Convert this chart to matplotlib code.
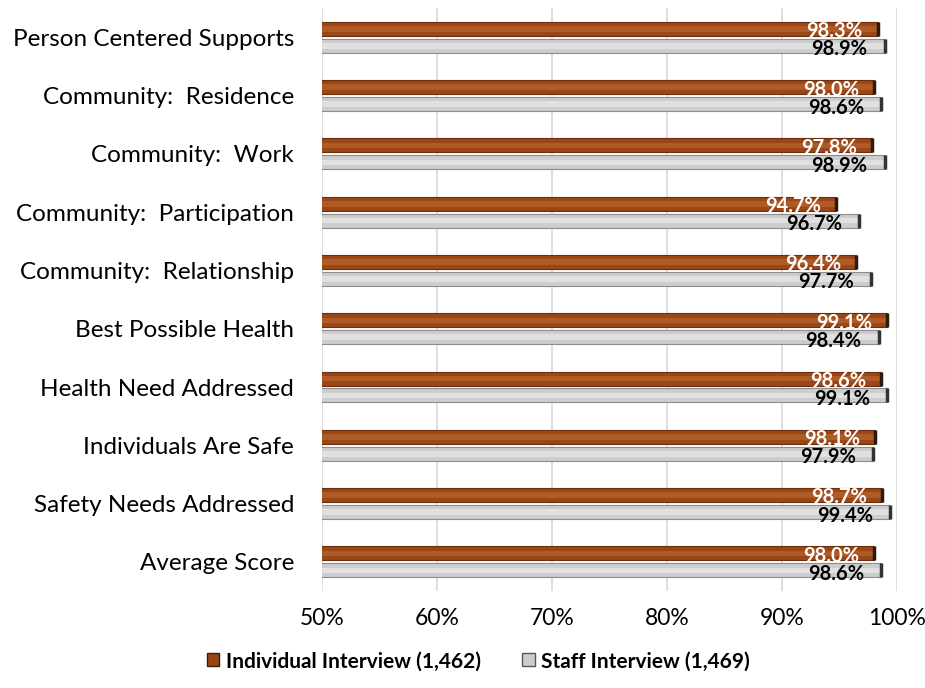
import matplotlib
matplotlib.use('Agg')
import matplotlib.pyplot as plt
import numpy as np

plt.rcParams['font.family'] = ['Lato', 'DejaVu Sans']

# 分类与两组得分
categories = ['Person Centered Supports', 'Community:  Residence', 'Community:  Work',
              'Community:  Participation', 'Community:  Relationship', 'Best Possible Health',
              'Health Need Addressed', 'Individuals Are Safe', 'Safety Needs Addressed',
              'Average Score']
individual = [98.3, 98.0, 97.8, 94.7, 96.4, 99.1, 98.6, 98.1, 98.7, 98.0]
staff = [98.9, 98.6, 98.9, 96.7, 97.7, 98.4, 99.1, 97.9, 99.4, 98.6]
series_names = ['Individual Interview (1,462)', 'Staff Interview (1,469)']

fig = plt.figure(figsize=(9.25, 6.88), dpi=100)
ax = fig.add_axes([0.348, 0.141, 0.622, 0.847])

y = np.arange(len(categories))
h = 0.24
gap = 0.025
y_ind = y - h / 2 - gap
y_stf = y + h / 2 + gap

c_ind, e_ind = '#9A4718', '#6E2E0C'
c_stf, e_stf = '#CDCDCD', '#8C8C8C'

ax.barh(y_ind, individual, height=h, color=c_ind, edgecolor=e_ind, linewidth=0.8, zorder=3)
ax.barh(y_stf, staff, height=h, color=c_stf, edgecolor=e_stf, linewidth=0.8, zorder=3)
# 中间一条亮带，模拟立体感
ax.barh(y_ind, individual, height=h * 0.4, color='#B05A26', linewidth=0, zorder=4)
ax.barh(y_stf, staff, height=h * 0.4, color='#E0E0E0', linewidth=0, zorder=4)
# 柱子末端的深色端盖
ax.vlines(individual, y_ind - h / 2, y_ind + h / 2, color='#2A1A10', linewidth=2.5, zorder=5)
ax.vlines(staff, y_stf - h / 2, y_stf + h / 2, color='#333333', linewidth=2.5, zorder=5)

for i in range(len(categories)):
    ax.text(individual[i] - 1.3, y_ind[i] + 0.04, '%.1f%%' % individual[i], ha='right', va='center',
            color='white', fontsize=14.5, fontweight='bold', zorder=6)
    ax.text(staff[i] - 1.5, y_stf[i] + 0.06, '%.1f%%' % staff[i], ha='right', va='center',
            color='black', fontsize=14.5, fontweight='bold', zorder=6)

ax.set_xlim(50, 100)
ax.set_ylim(len(categories) - 0.5, -0.5)
ax.set_xticks(range(50, 101, 10))
ax.set_xticklabels(['%d%%' % v for v in range(50, 101, 10)], fontsize=16.5)
ax.set_yticks(y)
ax.set_yticklabels(categories, fontsize=17.5)
ax.tick_params(length=0)
ax.tick_params(axis='x', pad=12)
ax.tick_params(axis='y', pad=20)
ax.grid(axis='x', color='#D9D9D9', linewidth=1.2, zorder=0)
for s in ax.spines.values():
    s.set_visible(False)

handles = [plt.Rectangle((0, 0), 1, 1, facecolor=c_ind, edgecolor='#3A1A08'),
           plt.Rectangle((0, 0), 1, 1, facecolor=c_stf, edgecolor='#555555')]
leg = fig.legend(handles, series_names, loc='center', bbox_to_anchor=(0.517, 0.039), ncol=2,
                 frameon=False, handlelength=0.6, handleheight=0.6, handletextpad=0.3,
                 columnspacing=2.0, prop={'weight': 'bold', 'size': 15})

fig.savefig('out.png', dpi=100)
